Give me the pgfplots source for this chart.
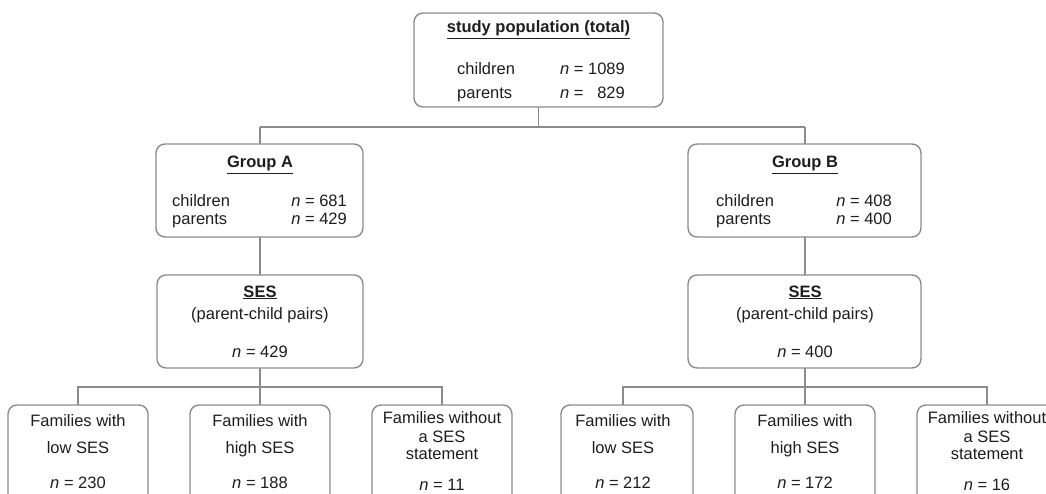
\documentclass[border=0pt]{standalone}
\usepackage{pgfplots}
\pgfplotsset{compat=1.18}
\usepackage{fontspec}
\setmainfont{Liberation Sans}
\definecolor{lc}{RGB}{140,140,140}
\definecolor{tc}{RGB}{30,30,30}
\newcommand{\ul}[1]{\underline{\smash{#1}}}
\begin{document}
\begin{tikzpicture}
\useasboundingbox (0,0) rectangle (1046pt,494pt);
\clip (0,0) rectangle (1046pt,494pt);
\begin{axis}[x=1pt,y=1pt,xmin=0,xmax=1046,ymin=0,ymax=494,y dir=reverse,
  scale only axis,enlargelimits=false,hide axis,clip=false,
  at={(0,0)},anchor=south west]
\tikzset{bx/.style={draw=lc,line width=1.4pt,rounded corners=9pt,fill=white},
  ln/.style={draw=lc,line width=1.4pt},
  t/.style={text=tc,font=\fontsize{16.5}{19}\selectfont,inner sep=0pt,anchor=base}}
% connectors
\draw[ln] (axis cs:538.5,107) -- (axis cs:538.5,127);
\draw[ln] (axis cs:260,127) -- (axis cs:805,127);
\draw[ln] (axis cs:260,127) -- (axis cs:260,144);
\draw[ln] (axis cs:805,127) -- (axis cs:805,144);
\draw[ln] (axis cs:260,237) -- (axis cs:260,275);
\draw[ln] (axis cs:805,237) -- (axis cs:805,275);
\draw[ln] (axis cs:260,368) -- (axis cs:260,387);
\draw[ln] (axis cs:805,368) -- (axis cs:805,387);
\draw[ln] (axis cs:78,405) -- (axis cs:78,387) -- (axis cs:442,387) -- (axis cs:442,405);
\draw[ln] (axis cs:260,387) -- (axis cs:260,405);
\draw[ln] (axis cs:623,405) -- (axis cs:623,387) -- (axis cs:987,387) -- (axis cs:987,405);
\draw[ln] (axis cs:805,387) -- (axis cs:805,405);
% boxes
\draw[bx] (axis cs:414,13) rectangle (axis cs:663,107);
\draw[bx] (axis cs:156,144) rectangle (axis cs:363,237);
\draw[bx] (axis cs:688,144) rectangle (axis cs:921,237);
\draw[bx] (axis cs:157,275) rectangle (axis cs:363,368);
\draw[bx] (axis cs:688,275) rectangle (axis cs:921,368);
\draw[bx] (axis cs:8,405) rectangle (axis cs:148,510);
\draw[bx] (axis cs:190,405) rectangle (axis cs:330,510);
\draw[bx] (axis cs:372,405) rectangle (axis cs:512,510);
\draw[bx] (axis cs:561,405) rectangle (axis cs:693,510);
\draw[bx] (axis cs:735,405) rectangle (axis cs:875,510);
\draw[bx] (axis cs:917,405) rectangle (axis cs:1060,510);
% top box text
\node[t] at (axis cs:538.5,33) {\textbf{\underline{study population (total)}}};
\node[t,anchor=base west] at (axis cs:457,75) {children};
\node[t,anchor=base west] at (axis cs:457,99) {parents};
\node[t,anchor=base east] (c1) at (axis cs:625,75) {\textit{n} = 1089};
\node[t,anchor=base west] at (c1.base west |- {axis cs:0,99}) {\textit{n} =};
\node[t,anchor=base east] at (axis cs:625,99) {829};
% group A
\node[t] at (axis cs:260,168) {\textbf{\underline{Group A}}};
\node[t,anchor=base west] at (axis cs:172,207) {children};
\node[t,anchor=base west] at (axis cs:172,225) {parents};
\node[t,anchor=base east] at (axis cs:347,207) {\textit{n} = 681};
\node[t,anchor=base east] at (axis cs:347,225) {\textit{n} = 429};
% group B
\node[t] at (axis cs:805,168) {\textbf{\underline{Group B}}};
\node[t,anchor=base west] at (axis cs:716,207) {children};
\node[t,anchor=base west] at (axis cs:716,225) {parents};
\node[t,anchor=base east] at (axis cs:892,207) {\textit{n} = 408};
\node[t,anchor=base east] at (axis cs:892,225) {\textit{n} = 400};
% SES
\node[t] at (axis cs:260,297) {\textbf{\underline{SES}}};
\node[t] at (axis cs:260,319) {(parent-child pairs)};
\node[t] at (axis cs:260,357) {\textit{n} = 429};
\node[t] at (axis cs:805,297) {\textbf{\underline{SES}}};
\node[t] at (axis cs:805,319) {(parent-child pairs)};
\node[t] at (axis cs:805,357) {\textit{n} = 400};
% bottom boxes
\node[t] at (axis cs:78,426) {Families with};
\node[t] at (axis cs:78,453) {low SES};
\node[t] at (axis cs:78,488) {\textit{n} = 230};
\node[t] at (axis cs:260,426) {Families with};
\node[t] at (axis cs:260,453) {high SES};
\node[t] at (axis cs:260,488) {\textit{n} = 188};
\node[t] at (axis cs:442,423) {Families without};
\node[t] at (axis cs:442,442) {a SES};
\node[t] at (axis cs:442,459) {statement};
\node[t] at (axis cs:442,490) {\textit{n} = 11};
\node[t] at (axis cs:623,426) {Families with};
\node[t] at (axis cs:623,453) {low SES};
\node[t] at (axis cs:623,488) {\textit{n} = 212};
\node[t] at (axis cs:805,426) {Families with};
\node[t] at (axis cs:805,453) {high SES};
\node[t] at (axis cs:805,488) {\textit{n} = 172};
\node[t] at (axis cs:987,423) {Families without};
\node[t] at (axis cs:987,442) {a SES};
\node[t] at (axis cs:987,459) {statement};
\node[t] at (axis cs:987,490) {\textit{n} = 16};
\end{axis}
\end{tikzpicture}
\end{document}
